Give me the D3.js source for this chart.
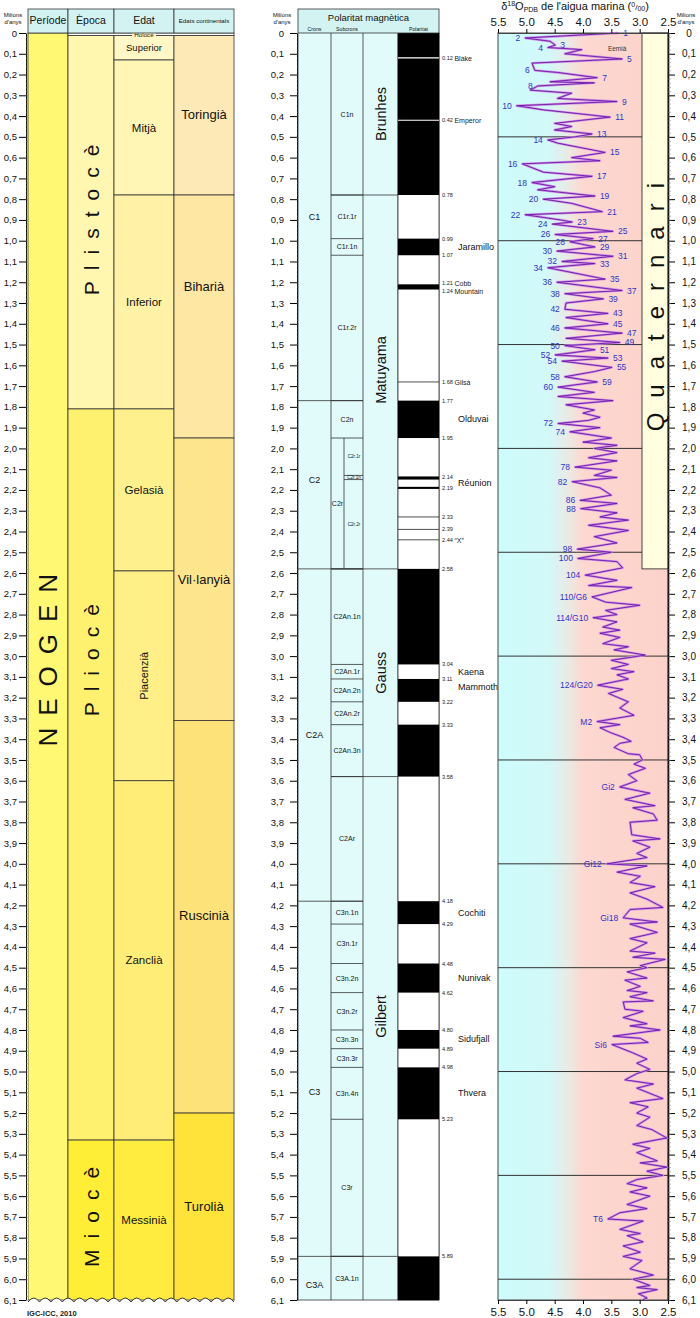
<!DOCTYPE html>
<html>
<head>
<meta charset="utf-8">
<script src="https://d3js.org/d3.v7.min.js"></script>
<style>
  body { margin: 0; background: #fff; }
  svg { display: block; font-family: "Liberation Sans", Arial, sans-serif; }
</style>
</head>
<body>
<svg id="chart" width="700" height="1318"></svg>
<script>
// ---------- Data ----------
// Ages in millions of years (Ma)
const ageMax = 6.1;
const holoceneTop = 0.0117;

// Chronostratigraphy
const periodNames = ["NEOGEN"];
const periodBounds = [0, 6.1];

const epochNames = ["Plistocè", "Pliocè", "Miocè"];
const epochBounds = [holoceneTop, 1.81, 5.33, 6.1];
const epochLabelAges = [0.9, 3.02, 5.7];

const stageNames = ["Superior", "Mitjà", "Inferior", "Gelasià", "Piacenzià", "Zanclià", "Messinià"];
const stageBounds = [holoceneTop, 0.13, 0.78, 1.81, 2.59, 3.6, 5.33, 6.1];

const landNames = ["Toringià", "Biharià", "Vil·lanyià", "Ruscinià", "Turolià"];
const landBounds = [holoceneTop, 0.78, 1.95, 3.31, 5.2, 6.1];
const landLabelAges = [0.39, 1.22, 2.63, 4.25, 5.65];

// Magnetic polarity
const cronNames = ["C1", "C2", "C2A", "C3", "C3A"];
const cronBounds = [0, 1.77, 2.58, 4.18, 5.89, 6.1];
const cronLabelAges = [0.885, 2.15, 3.38, 5.1, 6.03];

const subcronNames = ["C1n", "C1r.1r", "C1r.1n", "C1r.2r", "C2n", "C2r", "C2An.1n", "C2An.1r",
  "C2An.2n", "C2An.2r", "C2An.3n", "C2Ar", "C3n.1n", "C3n.1r", "C3n.2n", "C3n.2r", "C3n.3n",
  "C3n.3r", "C3n.4n", "C3r", "C3A.1n"];
const subcronBounds = [0, 0.78, 0.99, 1.07, 1.77, 1.95, 2.58, 3.04, 3.11, 3.22, 3.33, 3.58,
  4.18, 4.29, 4.48, 4.62, 4.80, 4.89, 4.98, 5.23, 5.89, 6.1];

const c2rNames = ["C2r.1r", "C2r.1n", "C2r.2r"];
const c2rBounds = [1.95, 2.13, 2.15, 2.58];

const chronNames = ["Brunhes", "Matuyama", "Gauss", "Gilbert", ""];
const chronBounds = [0, 0.78, 2.58, 3.58, 5.89, 6.1];

const normalFrom = [0, 0.99, 1.21, 1.77, 2.135, 2.185, 2.58, 3.11, 3.33, 4.18, 4.48, 4.80, 4.98, 5.89];
const normalTo   = [0.78, 1.07, 1.235, 1.95, 2.15, 2.195, 3.04, 3.22, 3.58, 4.29, 4.62, 4.89, 5.23, 6.1];
const excursionAges = [0.12, 0.42, 1.68, 2.33, 2.39, 2.44];

const polarityAges = [0.12, 0.42, 0.78, 0.99, 1.07, 1.21, 1.24, 1.68, 1.77, 1.95, 2.14, 2.19,
  2.33, 2.39, 2.44, 2.58, 3.04, 3.11, 3.22, 3.33, 3.58, 4.18, 4.29, 4.48, 4.62, 4.80, 4.89,
  4.98, 5.23, 5.89];
const polarityNotes = ["Blake", "Emperor", "", "", "", "Cobb", "Mountain", "Gilsá", "", "", "", "",
  "", "", "\u201cX\u201d", "", "", "", "", "", "", "", "", "", "", "", "", "", "", ""];

const eventNames = ["Jaramillo", "Olduvai", "Réunion", "Kaena", "Mammoth", "Cochiti", "Nunivak", "Sidufjall", "Thvera"];
const eventAges = [1.03, 1.86, 2.165, 3.075, 3.15, 4.235, 4.55, 4.845, 5.105];

// Benthic d18O (per mil PDB) against age (Ma)
const d18O = [
  [0.000, 3.38], [0.024, 5.02], [0.040, 4.58], [0.058, 4.49], [0.070, 4.62], [0.080, 4.02],
  [0.100, 4.32], [0.125, 3.31], [0.145, 4.90], [0.180, 4.85], [0.190, 4.45], [0.215, 3.75],
  [0.235, 4.58], [0.240, 3.80], [0.255, 4.80], [0.275, 4.93], [0.290, 4.20], [0.315, 4.45],
  [0.330, 3.40], [0.350, 5.17], [0.370, 4.70], [0.405, 3.52], [0.435, 4.50], [0.450, 4.20],
  [0.467, 4.50], [0.486, 3.84], [0.500, 4.14], [0.515, 4.62], [0.530, 4.45], [0.575, 3.61],
  [0.600, 4.20], [0.615, 3.70], [0.630, 5.07], [0.670, 4.70], [0.690, 3.84], [0.720, 4.90],
  [0.740, 4.50], [0.755, 4.80], [0.785, 3.79], [0.800, 4.70], [0.820, 4.20], [0.860, 3.66],
  [0.875, 5.02], [0.900, 4.40], [0.910, 4.19], [0.920, 4.54], [0.955, 3.47], [0.970, 4.49],
  [0.990, 3.82], [1.005, 4.23], [1.030, 3.79], [1.050, 4.46], [1.075, 3.47], [1.100, 4.37],
  [1.110, 3.79], [1.130, 4.62], [1.185, 3.61], [1.200, 4.46], [1.240, 3.31], [1.255, 4.32],
  [1.280, 3.64], [1.300, 4.30], [1.330, 4.32], [1.350, 3.56], [1.370, 4.30], [1.400, 3.56],
  [1.420, 4.32], [1.445, 3.31], [1.470, 4.30], [1.490, 3.35], [1.505, 4.32], [1.525, 3.79],
  [1.550, 4.49], [1.565, 3.56], [1.580, 4.37], [1.610, 3.49], [1.630, 3.80], [1.655, 4.32],
  [1.680, 3.75], [1.705, 4.44], [1.730, 3.80], [1.750, 4.44], [1.770, 3.47], [1.790, 4.30],
  [1.815, 3.80], [1.830, 4.00], [1.850, 3.70], [1.865, 3.90], [1.880, 4.44], [1.900, 3.70],
  [1.920, 4.23], [1.950, 3.50], [1.970, 4.00], [1.985, 3.40], [2.000, 3.80], [2.020, 3.40],
  [2.045, 3.90], [2.060, 3.40], [2.090, 4.14], [2.105, 3.50], [2.130, 3.80], [2.140, 3.40],
  [2.160, 4.19], [2.190, 3.70], [2.225, 3.50], [2.250, 4.05], [2.265, 3.40], [2.290, 4.04],
  [2.310, 3.40], [2.330, 3.70], [2.345, 3.20], [2.370, 3.90], [2.395, 3.20], [2.425, 3.80],
  [2.455, 3.40], [2.485, 4.10], [2.500, 3.50], [2.530, 4.09], [2.545, 3.40], [2.575, 3.30],
  [2.610, 3.96], [2.635, 3.40], [2.660, 3.90], [2.670, 3.14], [2.715, 3.84], [2.740, 3.60],
  [2.755, 3.00], [2.780, 3.60], [2.800, 3.40], [2.815, 3.82], [2.835, 3.40], [2.860, 3.65],
  [2.875, 3.35], [2.890, 3.70], [2.910, 3.35], [2.940, 3.65], [2.955, 3.20], [2.970, 3.45],
  [2.995, 2.90], [3.020, 3.50], [3.040, 3.20], [3.060, 3.50], [3.075, 3.10], [3.090, 3.40],
  [3.110, 3.20], [3.140, 3.74], [3.160, 3.30], [3.180, 3.55], [3.220, 3.20], [3.250, 3.35],
  [3.285, 3.10], [3.315, 3.75], [3.330, 3.35], [3.345, 3.70], [3.370, 3.50], [3.390, 3.30],
  [3.410, 3.15], [3.420, 3.35], [3.440, 3.45], [3.470, 3.20], [3.475, 3.00], [3.500, 2.95],
  [3.520, 3.10], [3.540, 2.90], [3.570, 3.20], [3.600, 3.05], [3.630, 3.35], [3.660, 2.82],
  [3.690, 3.26], [3.720, 2.73], [3.730, 3.12], [3.760, 2.76], [3.790, 2.69], [3.800, 3.17],
  [3.860, 3.14], [3.880, 2.64], [3.890, 3.12], [3.920, 2.82], [3.950, 3.05], [3.970, 2.87],
  [4.000, 3.58], [4.010, 2.87], [4.040, 3.40], [4.060, 2.99], [4.090, 3.17], [4.110, 2.73],
  [4.140, 3.17], [4.170, 2.87], [4.210, 2.59], [4.220, 3.17], [4.260, 3.29], [4.280, 2.69],
  [4.290, 3.17], [4.330, 2.69], [4.360, 3.17], [4.380, 2.87], [4.420, 3.17], [4.430, 2.73],
  [4.450, 3.12], [4.460, 2.55], [4.490, 2.99], [4.500, 2.87], [4.520, 3.22], [4.550, 2.87],
  [4.560, 3.26], [4.590, 2.99], [4.610, 3.22], [4.620, 2.87], [4.640, 3.17], [4.660, 2.76],
  [4.665, 3.29], [4.700, 3.26], [4.710, 2.94], [4.740, 3.29], [4.770, 2.87], [4.780, 3.17],
  [4.800, 2.64], [4.830, 3.47], [4.840, 2.99], [4.860, 2.85], [4.870, 3.49], [4.910, 3.12],
  [4.940, 2.87], [4.960, 3.05], [4.990, 2.82], [5.010, 3.05], [5.040, 3.26], [5.060, 2.76],
  [5.080, 3.05], [5.130, 2.59], [5.150, 3.17], [5.170, 2.85], [5.200, 3.05], [5.220, 2.82],
  [5.260, 3.05], [5.280, 2.78], [5.320, 2.52], [5.350, 3.12], [5.370, 2.82], [5.390, 3.05],
  [5.430, 2.69], [5.440, 2.99], [5.460, 2.52], [5.480, 2.87], [5.500, 2.59], [5.520, 3.05],
  [5.540, 3.22], [5.560, 2.87], [5.580, 3.17], [5.600, 2.82], [5.640, 3.22], [5.660, 2.87],
  [5.680, 3.35], [5.710, 3.56], [5.720, 2.94], [5.760, 3.35], [5.780, 2.99], [5.790, 3.22],
  [5.820, 2.94], [5.840, 3.29], [5.870, 2.99], [5.890, 3.29], [5.910, 2.96], [5.950, 3.17],
  [5.980, 2.76], [6.000, 3.12], [6.030, 2.82], [6.040, 3.05], [6.050, 2.69], [6.070, 3.02],
  [6.090, 2.87], [6.100, 2.95]
];

// Marine isotope stage labels: text, age, d18O value at the tip
const misLabels = ["1", "2", "3", "4", "5", "6", "7", "8", "9", "10", "11", "13", "14", "15", "16",
  "17", "18", "19", "20", "21", "22", "23", "24", "25", "26", "27", "28", "29", "30", "31", "32",
  "33", "34", "35", "36", "37", "38", "39", "42", "43", "45", "46", "47", "49", "50", "51", "52",
  "53", "54", "55", "58", "59", "60", "72", "74", "78", "82", "86", "88", "98", "100", "104",
  "110/G6", "114/G10", "124/G20", "M2", "Gi2", "Gi12", "Gi18", "Si6", "T6"];
const misAges = [0.0, 0.024, 0.058, 0.07, 0.125, 0.18, 0.215, 0.255, 0.33, 0.35, 0.405, 0.486,
  0.515, 0.575, 0.63, 0.69, 0.72, 0.785, 0.80, 0.86, 0.875, 0.91, 0.92, 0.955, 0.97, 0.99, 1.005,
  1.03, 1.05, 1.075, 1.10, 1.11, 1.13, 1.185, 1.20, 1.24, 1.255, 1.28, 1.33, 1.35, 1.40, 1.42,
  1.445, 1.49, 1.505, 1.525, 1.55, 1.565, 1.58, 1.61, 1.655, 1.68, 1.705, 1.88, 1.92, 2.09, 2.16,
  2.25, 2.29, 2.485, 2.53, 2.61, 2.715, 2.815, 3.14, 3.315, 3.63, 4.0, 4.26, 4.87, 5.71];
const misValues = [3.38, 5.02, 4.49, 4.62, 3.31, 4.85, 3.75, 4.80, 3.40, 5.17, 3.52, 3.84, 4.62,
  3.61, 5.07, 3.84, 4.90, 3.79, 4.70, 3.66, 5.02, 4.19, 4.54, 3.47, 4.49, 3.82, 4.23, 3.79, 4.46,
  3.47, 4.37, 3.79, 4.62, 3.61, 4.46, 3.31, 4.32, 3.64, 4.32, 3.56, 3.56, 4.32, 3.31, 3.35, 4.32,
  3.79, 4.49, 3.56, 4.37, 3.49, 4.32, 3.75, 4.44, 4.44, 4.23, 4.14, 4.19, 4.05, 4.04, 4.10, 4.09,
  3.96, 3.84, 3.82, 3.74, 3.75, 3.35, 3.58, 3.29, 3.49, 3.56];

const eemianAge = 0.085;
const eemianValue = 3.56;

const quaternaryBounds = [0, 2.58];
const d18OTicks = [5.5, 5.0, 4.5, 4.0, 3.5, 3.0, 2.5];

// ---------- Setup ----------
const svg = d3.select("#chart");
const y = d3.scaleLinear().domain([0, ageMax]).range([33, 1300]);
const x = d3.scaleLinear().domain([5.5, 2.5]).range([498, 668]);

const fmtAge = d => d === 0 ? "0" : d3.format(".1f")(d).replace(".", ",");
const majorTicks = d3.range(0, 62).map(i => i / 10);
const minorTicks = d3.range(0, 306).map(i => i / 50);
const line = "#333";
const headerFill = "#d3f3f3";

// Age axis (ruler) with major and minor ticks
function ageAxis(xPos, side, padding) {
  const g = svg.append("g").attr("transform", `translate(${xPos},0)`);
  const mk = side === "left" ? d3.axisLeft : d3.axisRight;
  g.call(mk(y).tickValues(majorTicks).tickFormat(fmtAge).tickSize(7).tickPadding(padding).tickSizeOuter(0));
  const minor = svg.append("g").attr("transform", `translate(${xPos},0)`)
    .call(d3.axisRight(y).tickValues(minorTicks).tickFormat("").tickSize(side === "left" ? 2 : 3).tickSizeOuter(0));
  minor.select(".domain").remove();
  minor.selectAll("line").attr("stroke", "#777").attr("stroke-width", 0.5);
  g.selectAll("text").attr("font-family", "Liberation Sans, Arial, sans-serif").attr("font-size", 9.5).attr("fill", "#111");
  g.select(".domain").attr("stroke", "#111");
  return g;
}

function intervals(g, x0, x1, bounds, fills) {
  g.selectAll(null).data(d3.pairs(bounds)).join("rect")
    .attr("x", x0).attr("width", x1 - x0)
    .attr("y", d => y(d[0])).attr("height", d => y(d[1]) - y(d[0]))
    .attr("fill", (d, i) => fills[i])
    .attr("stroke", line).attr("stroke-width", 0.8);
}

function vText(g, cx, cy, txt, size, spacing) {
  return g.append("text")
    .attr("transform", `translate(${cx},${cy}) rotate(-90)`)
    .attr("text-anchor", "middle").attr("dominant-baseline", "central")
    .attr("font-size", size).attr("letter-spacing", spacing || 0).attr("dx", (spacing || 0) / 2)
    .attr("fill", "#111").text(txt);
}

function hText(g, cx, cy, txt, size) {
  return g.append("text").attr("x", cx).attr("y", cy)
    .attr("text-anchor", "middle").attr("dominant-baseline", "central")
    .attr("font-size", size).attr("fill", "#111").text(txt);
}

function twoLine(g, cx, txt1, txt2) {
  hText(g, cx, 15, txt1, 6);
  hText(g, cx, 21.5, txt2, 6);
}

// ---------- Left panel: chronostratigraphy ----------
const cols = { per: [28, 68], epo: [68, 114], sta: [114, 174], land: [174, 234] };

const defs = svg.append("defs");
// wavy lower edge of the columns
const waveN = 18, waveW = (cols.land[1] - cols.per[0]) / waveN, waveY = y(ageMax);
let waveSegs = "";
for (let i = 0; i < waveN; i++) {
  const xa = cols.land[1] - i * waveW, xb = xa - waveW;
  waveSegs += ` Q${(xa + xb) / 2},${waveY - 6} ${xb},${waveY + 2}`;
}
const wave = `M${cols.land[1]},${waveY + 2}` + waveSegs;
defs.append("clipPath").attr("id", "leftClip").append("path")
  .attr("d", `M${cols.per[0] - 1},${y(0) - 1} H${cols.land[1] + 1} V${waveY + 2} L${cols.land[1]},${waveY + 2}` + waveSegs + " Z");

const left = svg.append("g");
const leftCols = left.append("g").attr("clip-path", "url(#leftClip)");

intervals(leftCols, cols.per[0], cols.per[1], periodBounds, ["#fff872"]);
intervals(leftCols, cols.epo[0], cols.epo[1], epochBounds, ["#fff7b0", "#fff170", "#ffee35"]);
intervals(leftCols, cols.sta[0], cols.sta[1], stageBounds,
  ["#fff8c6", "#fff6b6", "#fff2a6", "#fff08e", "#ffef86", "#ffed78", "#ffec3e"]);
intervals(leftCols, cols.land[0], cols.land[1], landBounds,
  ["#fde9b6", "#fde7a2", "#fde58e", "#fde27a", "#ffe23a"]);
// Holocene band
leftCols.append("rect").attr("x", cols.epo[0]).attr("width", cols.land[1] - cols.epo[0])
  .attr("y", y(0)).attr("height", y(holoceneTop) - y(0))
  .attr("fill", "#fff").attr("stroke", line).attr("stroke-width", 0.8);
left.append("path").attr("d", wave).attr("fill", "none").attr("stroke", line).attr("stroke-width", 1);

const holo = left.append("g");
holo.append("rect").attr("x", 132).attr("y", y(0) - 1).attr("width", 24).attr("height", 6).attr("fill", "#fff8c6");
hText(holo, 144, y(holoceneTop / 2) + 0.5, "Holocè", 6.2);

// header
[["per", "Període", 10.5], ["epo", "Època", 10.5], ["sta", "Edat", 10.5], ["land", "Edats continentals", 6.2]]
  .forEach(([k, t, s]) => {
    left.append("rect").attr("x", cols[k][0]).attr("y", 9).attr("width", cols[k][1] - cols[k][0])
      .attr("height", y(0) - 9).attr("fill", headerFill).attr("stroke", line).attr("stroke-width", 0.8);
    hText(left, (cols[k][0] + cols[k][1]) / 2, 20, t, s);
  });
twoLine(left, 13, "Milions", "d'anys");

vText(left, (cols.per[0] + cols.per[1]) / 2, y(3.02), periodNames[0], 26, 12);
epochNames.forEach((n, i) => vText(left, (cols.epo[0] + cols.epo[1]) / 2, y(epochLabelAges[i]), n, 21, 11));
stageNames.forEach((n, i) => {
  const mid = (stageBounds[i] + stageBounds[i + 1]) / 2;
  const cx = (cols.sta[0] + cols.sta[1]) / 2;
  if (n === "Piacenzià") vText(left, cx, y(mid), n, 11);
  else hText(left, cx, y(mid), n, n === "Superior" ? 9.5 : 11.5);
});
landNames.forEach((n, i) => hText(left, (cols.land[0] + cols.land[1]) / 2, y(landLabelAges[i]), n, 13));

left.append("text").attr("x", 27).attr("y", 1316).attr("font-size", 7.5).attr("font-weight", "bold")
  .attr("fill", "#222").text("IGC-ICC, 2010");

ageAxis(26, "left", 2);

// ---------- Middle panel: magnetic polarity ----------
const mid = svg.append("g");
const mc = { cron: [298, 331], sub: [331, 363], split: 344, chron: [363, 398], pol: [398, 439] };
const midFill = "#e1fbfb";

mid.append("rect").attr("x", mc.cron[0]).attr("y", y(0)).attr("width", mc.chron[1] - mc.cron[0])
  .attr("height", y(ageMax) - y(0)).attr("fill", midFill);
// vertical column lines
[mc.cron[0], mc.cron[1], mc.sub[1], mc.chron[1], mc.pol[1]].forEach(xx =>
  mid.append("line").attr("x1", xx).attr("x2", xx).attr("y1", y(0)).attr("y2", y(ageMax))
    .attr("stroke", line).attr("stroke-width", 0.8));
mid.append("line").attr("x1", mc.split).attr("x2", mc.split).attr("y1", y(c2rBounds[0])).attr("y2", y(c2rBounds[3]))
  .attr("stroke", line).attr("stroke-width", 0.8);

function hLines(ages, x0, x1) {
  mid.selectAll(null).data(ages).join("line")
    .attr("x1", x0).attr("x2", x1).attr("y1", d => y(d)).attr("y2", d => y(d))
    .attr("stroke", line).attr("stroke-width", 0.8);
}
hLines(subcronBounds.slice(1, -1), mc.sub[0], mc.sub[1]);
hLines(cronBounds.slice(1, -1), mc.cron[0], mc.sub[1]);
hLines(chronBounds.slice(1, -1), mc.sub[0], mc.chron[1]);
hLines(c2rBounds.slice(1, -1), mc.split, mc.sub[1]);
hLines([ageMax], mc.cron[0], mc.pol[1]);

// labels
cronNames.forEach((n, i) => hText(mid, (mc.cron[0] + mc.cron[1]) / 2, y(cronLabelAges[i]), n, 9));
subcronNames.forEach((n, i) => {
  const a = (subcronBounds[i] + subcronBounds[i + 1]) / 2;
  if (n === "C2r") hText(mid, (mc.sub[0] + mc.split) / 2, y(a), n, 7);
  else hText(mid, (mc.sub[0] + mc.sub[1]) / 2, y(Math.min(a, 6.04)), n, 7);
});
c2rNames.forEach((n, i) => hText(mid, (mc.split + mc.sub[1]) / 2 + 0.5, y((c2rBounds[i] + c2rBounds[i + 1]) / 2), n, 4.6));
chronNames.forEach((n, i) => {
  if (n) vText(mid, (mc.chron[0] + mc.chron[1]) / 2, y((chronBounds[i] + chronBounds[i + 1]) / 2) - (n === "Matuyama" ? 12 : 0), n, 14.5);
});

// polarity column
mid.append("rect").attr("x", mc.pol[0]).attr("y", y(0)).attr("width", mc.pol[1] - mc.pol[0])
  .attr("height", y(ageMax) - y(0)).attr("fill", "#fff").attr("stroke", line).attr("stroke-width", 0.8);
mid.selectAll(null).data(normalFrom).join("rect")
  .attr("x", mc.pol[0]).attr("width", mc.pol[1] - mc.pol[0])
  .attr("y", d => y(d)).attr("height", (d, i) => y(normalTo[i]) - y(d))
  .attr("fill", "#000");
const isNormal = a => normalFrom.some((f, i) => a > f && a < normalTo[i]);
mid.selectAll(null).data(excursionAges).join("line")
  .attr("x1", mc.pol[0]).attr("x2", mc.pol[1]).attr("y1", d => y(d)).attr("y2", d => y(d))
  .attr("stroke", d => isNormal(d) ? "#fff" : "#222").attr("stroke-width", d => isNormal(d) ? 1.2 : 0.8);

// age labels beside the polarity column, nudged apart where they crowd
const polY = polarityAges.map(d => y(d));
for (let i = 1; i < polY.length; i++) {
  const gap = polY[i] - polY[i - 1];
  if (gap < 8) { polY[i - 1] -= (8 - gap) / 2; polY[i] += (8 - gap) / 2; }
}
mid.selectAll(null).data(polarityAges).join("text")
  .attr("x", mc.pol[1] + 3).attr("y", (d, i) => polY[i]).attr("dominant-baseline", "central")
  .attr("font-size", 5.6).attr("fill", "#222")
  .text((d, i) => d3.format(".2f")(d) + (polarityNotes[i] ? " " : ""))
  .append("tspan").attr("font-size", 7).text((d, i) => polarityNotes[i]);
eventNames.forEach((n, i) => mid.append("text").attr("x", 458).attr("y", y(eventAges[i]))
  .attr("dominant-baseline", "central").attr("font-size", 9).attr("fill", "#111").text(n));

// header
mid.append("rect").attr("x", mc.cron[0]).attr("y", 9).attr("width", mc.pol[1] - mc.cron[0])
  .attr("height", y(0) - 9).attr("fill", headerFill).attr("stroke", line).attr("stroke-width", 0.8);
hText(mid, (mc.cron[0] + mc.pol[1]) / 2, 17, "Polaritat magnètica", 9.5);
hText(mid, (mc.cron[0] + mc.cron[1]) / 2, 29, "Crons", 5.2);
hText(mid, (mc.sub[0] + mc.sub[1]) / 2, 29, "Subcrons", 5.2);
hText(mid, (mc.pol[0] + mc.pol[1]) / 2, 29, "Polaritat", 5.2);
twoLine(mid, 282, "Milions", "d'anys");

ageAxis(297, "left", 6);

// ---------- Right panel: d18O ----------
const right = svg.append("g");
const grad = defs.append("linearGradient").attr("id", "bg").attr("gradientUnits", "userSpaceOnUse")
  .attr("x1", x(5.5)).attr("x2", x(2.5)).attr("y1", 0).attr("y2", 0);
[[0, "#cdfcfc"], [0.3, "#d3f8f8"], [0.41, "#eaeae5"], [0.5, "#fcd8d0"], [1, "#fcd2ca"]]
  .forEach(([o, c]) => grad.append("stop").attr("offset", o).attr("stop-color", c));

right.append("rect").attr("x", x(5.5)).attr("y", y(0)).attr("width", x(2.5) - x(5.5))
  .attr("height", y(ageMax) - y(0)).attr("fill", "url(#bg)").attr("stroke", "#444").attr("stroke-width", 1);

const qx = 642;
right.append("rect").attr("x", qx).attr("y", y(quaternaryBounds[0])).attr("width", x(2.5) - qx)
  .attr("height", y(quaternaryBounds[1]) - y(quaternaryBounds[0]))
  .attr("fill", "#ffffe0").attr("stroke", line).attr("stroke-width", 0.9);
vText(right, (qx + x(2.5)) / 2, y(1.32), "Quaternari", 24, 15);

// half-million-year lines
right.selectAll(null).data(d3.range(1, 13).map(i => i / 2)).join("line")
  .attr("x1", x(5.5)).attr("x2", d => d < quaternaryBounds[1] ? qx : x(2.5))
  .attr("y1", d => y(d)).attr("y2", d => y(d)).attr("stroke", "#333").attr("stroke-width", 1);

// curve
const curve = d3.line().x(d => x(d[1])).y(d => y(d[0]));
right.append("path").datum(d18O).attr("d", curve).attr("fill", "none")
  .attr("stroke", "#cf8fe6").attr("stroke-width", 2.4).attr("stroke-linejoin", "round");
right.append("path").datum(d18O).attr("d", curve).attr("fill", "none")
  .attr("stroke", "#6a16a6").attr("stroke-width", 0.9).attr("stroke-linejoin", "round");

// stage labels: odd (warm) numbers to the right of the tip, the rest to the left
const warm = t => /^\d+$/.test(t) && (+t) % 2 === 1;
right.selectAll(null).data(misLabels).join("text")
  .attr("x", (d, i) => x(misValues[i]) + (warm(d) ? 5 : -5))
  .attr("y", (d, i) => y(misAges[i]))
  .attr("text-anchor", d => warm(d) ? "start" : "end")
  .attr("dominant-baseline", "central")
  .attr("font-size", 8.5).attr("fill", "#2f35c8").text(d => d);
right.append("text").attr("x", x(eemianValue)).attr("y", y(eemianAge))
  .attr("font-size", 6.5).attr("fill", "#333").text("Eemià");

// axes
const topAx = right.append("g").attr("transform", `translate(0,${y(0)})`)
  .call(d3.axisTop(x).tickValues(d18OTicks).tickFormat(d3.format(".1f")).tickSize(4).tickPadding(3).tickSizeOuter(0));
const botAx = right.append("g").attr("transform", `translate(0,${y(ageMax)})`)
  .call(d3.axisBottom(x).tickValues(d18OTicks).tickFormat(d3.format(".1f")).tickSize(4).tickPadding(4).tickSizeOuter(0));
[topAx, botAx].forEach(a => {
  a.selectAll("text").attr("font-family", "Liberation Sans, Arial, sans-serif").attr("font-size", 11.5).attr("fill", "#111");
  a.select(".domain").attr("stroke", "#444");
});

const rAx = ageAxis(x(2.5), "right", 7);
rAx.selectAll("text").attr("text-anchor", "middle").attr("x", 21).attr("font-size", 10);
rAx.select(".domain").attr("stroke-width", 1.6);
twoLine(right, 686, "Milions", "d'anys");

// title
const title = right.append("text").attr("x", 575).attr("y", 10).attr("text-anchor", "middle")
  .attr("font-size", 11).attr("fill", "#111");
title.append("tspan").text("δ");
title.append("tspan").attr("font-size", 7).attr("dy", -4).text("18");
title.append("tspan").attr("dy", 4).text("O");
title.append("tspan").attr("font-size", 7).attr("dy", 2).text("PDB");
title.append("tspan").attr("dy", -2).text(" de l'aigua marina (");
title.append("tspan").attr("font-size", 7).attr("dy", -3).text("0");
title.append("tspan").attr("font-size", 8).attr("dy", 3).text("/");
title.append("tspan").attr("font-size", 7).attr("dy", 1).text("00");
title.append("tspan").attr("dy", -1).text(")");
</script>
</body>
</html>
